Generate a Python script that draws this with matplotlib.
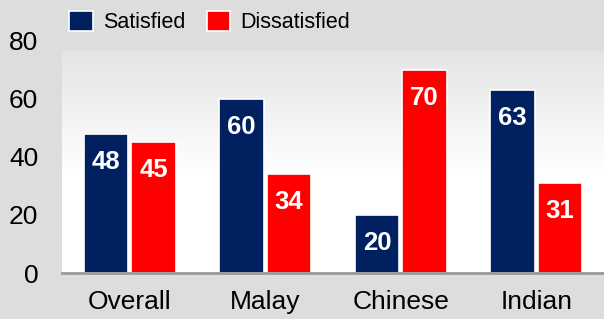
import numpy as np
import matplotlib
matplotlib.use('Agg')
from matplotlib import pyplot as plt
from matplotlib.patches import Patch

categories = ['Overall', 'Malay', 'Chinese', 'Indian']
satisfied = [48, 60, 20, 63]
dissatisfied = [45, 34, 70, 31]
yticks = [0, 20, 40, 60, 80]

navy = '#002060'
red = '#ff0000'
bg = '#dddddd'

plt.rcParams['font.family'] = ['Liberation Sans', 'DejaVu Sans']

fig = plt.figure(figsize=(6.04, 3.19), dpi=100, facecolor=bg)
ax = fig.add_axes([0.1026, 0.1442, 0.8974, 0.7273])
ax.set_facecolor(bg)

# plot area gradient (light grey at top fading to white)
grad = np.linspace(0, 1, 256).reshape(-1, 1)
cmap = matplotlib.colors.LinearSegmentedColormap.from_list(
    'g', [(0, '#ffffff'), (0.45, '#ffffff'), (1, '#e4e4e4')])
ax.imshow(grad, extent=[-0.5, 3.5, 0, 76.5], origin='lower', aspect='auto',
          cmap=cmap, zorder=0)

x = np.arange(len(categories))
w = 0.33
b1 = ax.bar(x - w / 2 - 0.01, satisfied, w, color=navy, edgecolor='white', linewidth=1.2, zorder=2)
b2 = ax.bar(x + w / 2 + 0.01, dissatisfied, w, color=red, edgecolor='white', linewidth=1.2, zorder=2)

for bars, vals in ((b1, satisfied), (b2, dissatisfied)):
    for bar, v in zip(bars, vals):
        ax.annotate(str(v), (bar.get_x() + bar.get_width() / 2, v),
                    xytext=(0, -20), textcoords='offset points',
                    ha='center', va='center', color='white',
                    fontsize=18.5, fontweight='bold', zorder=3)

ax.set_xlim(-0.5, 3.5)
ax.set_ylim(0, 80)
ax.set_xticks(x)
ax.set_xticklabels(categories, fontsize=19)
ax.set_yticks(yticks)
ax.set_yticklabels([str(t) for t in yticks], fontsize=19)
ax.tick_params(length=0)
ax.tick_params(axis='y', pad=17)
ax.tick_params(axis='x', pad=12)
for s in ('top', 'right', 'left'):
    ax.spines[s].set_visible(False)
ax.spines['bottom'].set_color('#999999')
ax.spines['bottom'].set_linewidth(2)
ax.spines['bottom'].set_zorder(4)

handles = [Patch(facecolor=navy, edgecolor='white', linewidth=1.2, label='Satisfied'),
           Patch(facecolor=red, edgecolor='white', linewidth=1.2, label='Dissatisfied')]
fig.legend(handles=handles, loc='upper left', bbox_to_anchor=(0.097, 1.0),
           ncol=2, frameon=False, fontsize=15.5, handlelength=1.1,
           handleheight=1.1, handletextpad=0.45, columnspacing=1.0,
           borderaxespad=0.1)

fig.savefig('out.png', dpi=100, facecolor=bg)
